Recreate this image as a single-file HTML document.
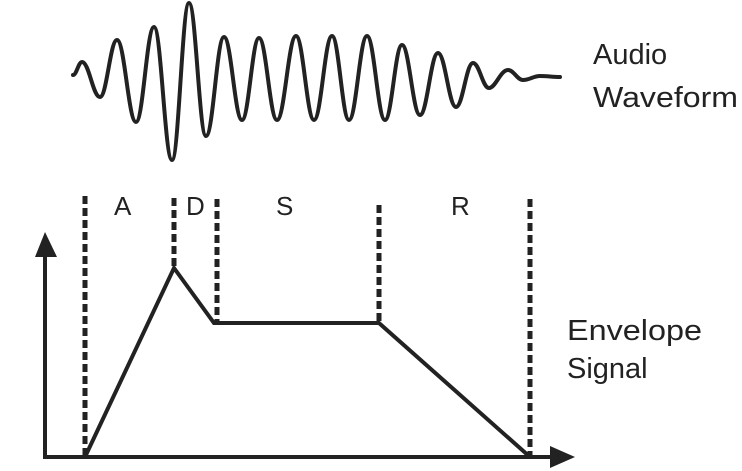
<!DOCTYPE html>
<html><head><meta charset="utf-8"><style>
html,body{margin:0;padding:0;background:#fff;}
svg{display:block;}
text{font-family:"Liberation Sans",sans-serif;fill:#222;}
</style></head><body>
<svg width="742" height="471" viewBox="0 0 742 471" xmlns="http://www.w3.org/2000/svg">
<path fill="none" stroke="#222" stroke-width="4" stroke-linecap="round" stroke-linejoin="round" d="M73 75 C76.6 75 78.4 62 82 62 C89.2 62 92.8 97 100 97 C106.8 97 110.2 40 117 40 C124.6 40 128.4 122 136 122 C143.2 122 146.8 27 154 27 C161.2 27 164.8 160 172 160 C178.8 160 182.2 3 189 3 C195.8 3 199.2 136 206 136 C213.2 136 216.8 37 224 37 C231.2 37 234.8 120 242 120 C248.8 120 252.2 38 259 38 C266.2 38 269.8 120 277 120 C284.6 120 288.4 36 296 36 C303.2 36 306.8 120 314 120 C321.2 120 324.8 36 332 36 C338.8 36 342.2 120 349 120 C356.2 120 359.8 36 367 36 C374.2 36 377.8 120 385 120 C391.8 120 395.2 45 402 45 C409.2 45 412.8 115 420 115 C427.2 115 430.8 53 438 53 C445.2 53 448.8 107 456 107 C462.8 107 466.2 63 473 63 C479.4 63 482.6 88 489 88 C495.6 88 500.4 70 508 70 C514 70 517 80 523 80 C529.8 80 533.2 76 540 76 C548 76 552 77 560 77"/>
<g stroke="#222" stroke-width="5" stroke-dasharray="8 4" fill="none">
<line x1="85" y1="196" x2="85" y2="457"/>
<line x1="174" y1="198" x2="174" y2="268"/>
<line x1="217" y1="199" x2="217" y2="323"/>
<line x1="379" y1="205" x2="379" y2="323"/>
<line x1="530" y1="199" x2="530" y2="457"/>
</g>
<g stroke="#222" stroke-width="4" fill="none">
<line x1="45" y1="250" x2="45" y2="459"/>
<line x1="43" y1="457" x2="555" y2="457"/>
<polyline points="85,457 174,268 214,323 379,323 530,457"/>
</g>
<polygon points="45,232 35,257 57,257" fill="#222"/>
<polygon points="575,457 550,446 550,468" fill="#222"/>
<g font-size="26">
<text x="114" y="215">A</text>
<text x="186" y="215">D</text>
<text x="276" y="215">S</text>
<text x="451" y="215">R</text>
</g>
<g font-size="29">
<text x="593" y="64">Audio</text>
<text x="593" y="107" textLength="145" lengthAdjust="spacingAndGlyphs">Waveform</text>
<text x="567" y="340" textLength="135" lengthAdjust="spacingAndGlyphs">Envelope</text>
<text x="567" y="378">Signal</text>
</g>
</svg>
</body></html>
